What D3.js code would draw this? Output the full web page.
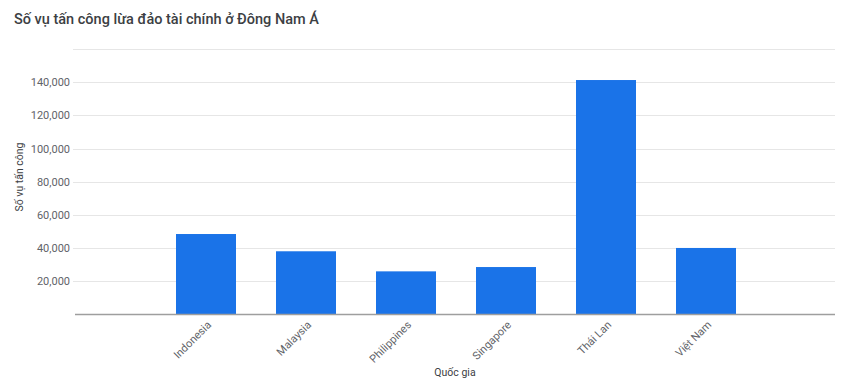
<!DOCTYPE html>
<html>
<head>
<meta charset="utf-8">
<script src="https://cdn.jsdelivr.net/npm/d3@7.9.0/dist/d3.min.js"></script>
<style>
  body { margin: 0; background: #fff; }
  svg { font-family: Roboto, "Noto Sans", sans-serif; }
</style>
</head>
<body>
<svg id="chart" width="850" height="390"></svg>
<script>
// data
const countries = ["Indonesia", "Malaysia", "Philippines", "Singapore", "Thái Lan", "Việt Nam"];
const attacks = [48500, 38100, 26000, 28600, 141300, 40100];
const yTicks = [20000, 40000, 60000, 80000, 100000, 120000, 140000, 160000];

const svg = d3.select("#chart");
const margin = { left: 76, right: 14, top: 49, bottom: 75.5 };
const W = 850, H = 390;

const x = d3.scaleBand()
  .domain(countries)
  .range([margin.left, W - margin.right])
  .paddingInner(0.4)
  .paddingOuter(1.0);

const y = d3.scaleLinear()
  .domain([0, 160000])
  .range([H - margin.bottom, margin.top]);

// title
svg.append("text")
  .attr("x", 14).attr("y", 24)
  .attr("font-size", 14.5)
  .attr("font-weight", 500)
  .attr("fill", "#3c4043")
  .text("Số vụ tấn công lừa đảo tài chính ở Đông Nam Á");

// gridlines
svg.append("g")
  .selectAll("line")
  .data(yTicks)
  .enter().append("line")
  .attr("x1", 73).attr("x2", 835)
  .attr("y1", d => Math.round(y(d)) + 0.5).attr("y2", d => Math.round(y(d)) + 0.5)
  .attr("stroke", "#e6e6e6");

// y tick labels (top one has no label)
svg.append("g")
  .selectAll("text")
  .data(yTicks.filter(d => d < 160000))
  .enter().append("text")
  .attr("x", 70)
  .attr("y", d => y(d) + 4)
  .attr("text-anchor", "end")
  .attr("font-size", 11)
  .attr("fill", "#5f6368")
  .text(d => d3.format(",")(d));

// bars
svg.append("g")
  .selectAll("rect")
  .data(countries)
  .enter().append("rect")
  .attr("x", d => x(d))
  .attr("width", x.bandwidth())
  .attr("y", (d, i) => y(attacks[i]))
  .attr("height", (d, i) => y(0) - y(attacks[i]))
  .attr("fill", "#1a73e8");

// baseline
svg.append("line")
  .attr("x1", 75).attr("x2", 835)
  .attr("y1", y(0)).attr("y2", y(0))
  .attr("stroke", "#9e9e9e")
  .attr("stroke-width", 1.5);

// x labels, rotated
svg.append("g")
  .selectAll("text")
  .data(countries)
  .enter().append("text")
  .attr("transform", d => `translate(${x(d) + x.bandwidth() / 2 + 6},${y(0) + 11}) rotate(-45)`)
  .attr("text-anchor", "end")
  .attr("font-size", 11)
  .attr("fill", "#5f6368")
  .text(d => d);

// axis titles
svg.append("text")
  .attr("x", 455)
  .attr("y", 376)
  .attr("text-anchor", "middle")
  .attr("font-size", 10.5)
  .attr("fill", "#3c4043")
  .text("Quốc gia");

svg.append("text")
  .attr("transform", "translate(23,177) rotate(-90)")
  .attr("text-anchor", "middle")
  .attr("font-size", 10.5)
  .attr("fill", "#3c4043")
  .text("Số vụ tấn công");
</script>
</body>
</html>
